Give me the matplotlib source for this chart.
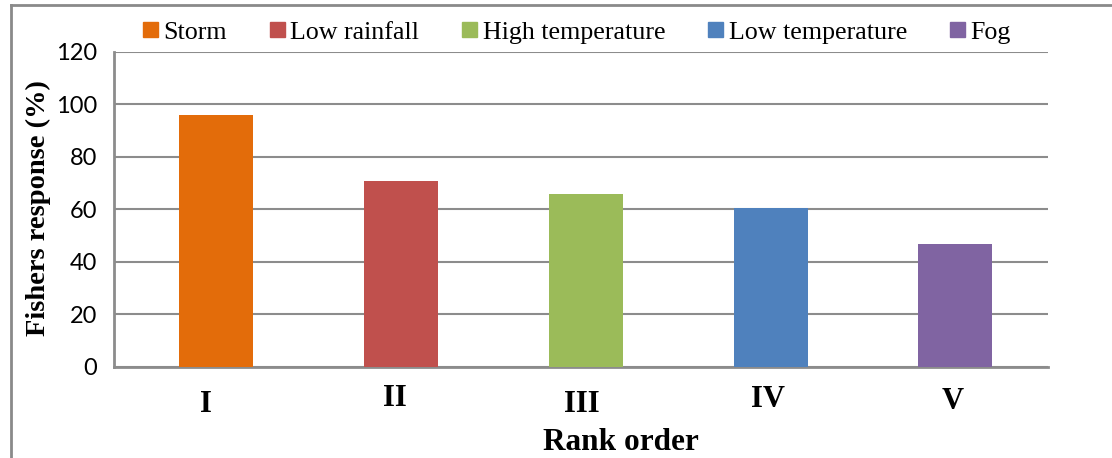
import matplotlib.pyplot as plt
from matplotlib.patches import Patch
from matplotlib.lines import Line2D
from matplotlib.transforms import ScaledTranslation

# Fishers' ranking of climate stressors
ranks = ["I", "II", "III", "IV", "V"]
causes = ["Storm", "Low rainfall", "High temperature", "Low temperature", "Fog"]
response = [96, 71, 66, 60.5, 47]
colors = ["#E36C0A", "#C0504D", "#9BBB59", "#4F81BD", "#8064A2"]

serif = "Liberation Serif"
grid_col = "#8c8c8c"

fig = plt.figure(figsize=(11.12, 4.58), dpi=100)
ax = fig.add_axes([0.1025, 0.1987, 0.8399, 0.6878])

x = range(len(ranks))
ax.bar(x, response, width=0.4, color=colors, zorder=3)

ax.set_xlim(-0.55, len(ranks) - 0.5)
ax.set_ylim(0, 120)
ax.set_yticks(range(0, 121, 20))
ax.yaxis.grid(True, color=grid_col, linewidth=1.5, zorder=0)
ax.tick_params(axis="both", length=0)
ax.tick_params(axis="y", pad=12, labelsize=17)
for lab in ax.get_yticklabels():
    lab.set_fontfamily("Lato")

ax.set_xticks(list(x))
ax.set_xticklabels(ranks, fontfamily=serif, fontweight="bold", fontsize=22)
ax.tick_params(axis="x", pad=12)
# small nudges on the rank labels
nudges = [(-10, -6), (-6, 0), (-4, -6), (-3, -1), (-3, -3)]
for lab, (dx, dy) in zip(ax.get_xticklabels(), nudges):
    lab.set_transform(lab.get_transform() + ScaledTranslation(dx / 100, dy / 100, fig.dpi_scale_trans))

for side in ["top", "right"]:
    ax.spines[side].set_visible(False)
for side in ["left", "bottom"]:
    ax.spines[side].set_color(grid_col)
    ax.spines[side].set_linewidth(2)

fig.text(621 / 1112, 1 - 450 / 458, "Rank order", fontfamily=serif, fontweight="bold",
         fontsize=22.5, ha="center", va="baseline")
fig.text(38 / 1112, 1 - 208 / 458, "Fishers response (%)", fontfamily=serif, fontweight="bold",
         fontsize=20.5, rotation=90, ha="center", va="center")

handles = [Patch(color=c) for c in colors]
leg = fig.legend(handles, causes, loc="center left", bbox_to_anchor=(143 / 1112, 1 - 33 / 458),
                 ncol=5, frameon=False, prop={"family": serif, "size": 18.7},
                 handlelength=0.58, handleheight=0.52, handletextpad=0.2, columnspacing=1.66,
                 borderpad=0, borderaxespad=0)

# outer frame (left and top edges only)
fig.add_artist(Line2D([10.5 / 1112, 10.5 / 1112], [0, 1 - 5 / 458], color="#8a8a8a", linewidth=2))
fig.add_artist(Line2D([10.5 / 1112, 1], [1 - 5 / 458, 1 - 5 / 458], color="#8a8a8a", linewidth=2))

fig.savefig("out.png", dpi=100)
